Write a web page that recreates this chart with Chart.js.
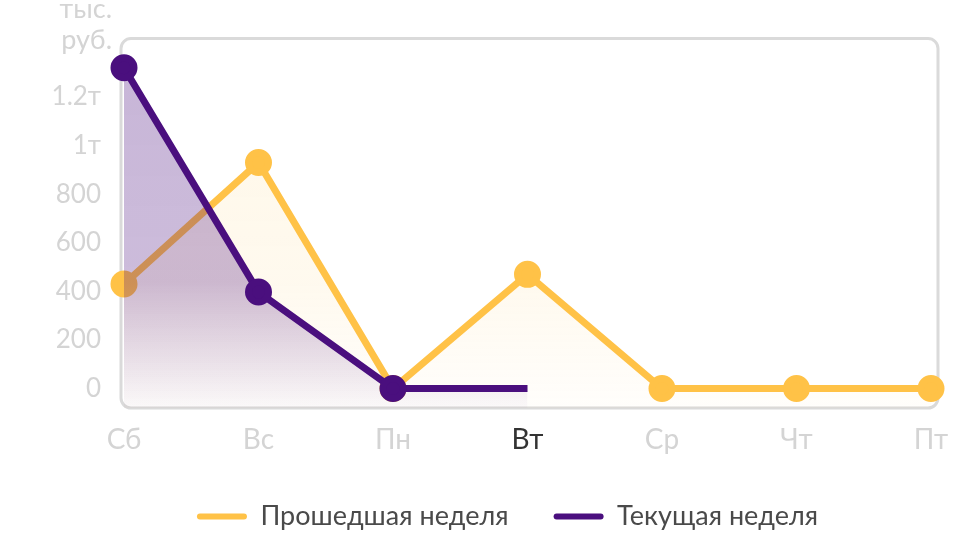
<!DOCTYPE html>
<html>
<head>
<meta charset="utf-8">
<script src="https://cdn.jsdelivr.net/npm/chart.js@4"></script>
<style>
  html, body { margin: 0; padding: 0; background: #fff; }
  #wrap { width: 971px; height: 546px; }
</style>
</head>
<body>
<div id="wrap"><canvas id="weekChart"></canvas></div>
<script>
// дни недели и выручка (тыс. руб.)
var days = ["Сб", "Вс", "Пн", "Вт", "Ср", "Чт", "Пт"];
var lastWeek = [430, 930, 0, 470, 0, 0, 0];
var thisWeek = [1320, 397, 0, 0, null, null, null];
var yTicks = [0, 200, 400, 600, 800, 1000, 1200];
var today = 3;

var yellow = "#ffc247";
var purple = "#4a0f7e";
var grey = "#d4d4d4";

// рамка вокруг области графика, подпись оси, сдвиг легенды
var framePlugin = {
  id: "frame",
  afterLayout: function (chart) {
    chart.legend.left += 42;
    chart.legend.right += 42;
  },
  beforeDatasetsDraw: function (chart) {
    var a = chart.chartArea, ctx = chart.ctx;
    ctx.save();
    ctx.strokeStyle = "#dadada";
    ctx.lineWidth = 3;
    ctx.beginPath();
    ctx.roundRect(a.left - 3, a.top, a.right - a.left + 10, a.bottom - a.top, 10);
    ctx.stroke();
    ctx.restore();
  },
  afterDraw: function (chart) {
    var ctx = chart.ctx;
    ctx.save();
    ctx.fillStyle = grey;
    ctx.font = "27px Lato";
    ctx.textAlign = "right";
    ctx.fillText("тыс.", 112, 9);
    ctx.fillText("руб.", 112, 40);
    ctx.restore();
  }
};

var ctx = document.getElementById("weekChart").getContext("2d");

function gradientFill(rgb, topAlpha, midAlpha, bottomAlpha) {
  return function (context) {
    var a = context.chart.chartArea;
    if (!a) return "rgba(" + rgb + "," + topAlpha + ")";
    var g = context.chart.ctx.createLinearGradient(0, a.top, 0, a.bottom);
    g.addColorStop(0, "rgba(" + rgb + "," + topAlpha + ")");
    g.addColorStop(0.66, "rgba(" + rgb + "," + midAlpha + ")");
    g.addColorStop(1, "rgba(" + rgb + "," + bottomAlpha + ")");
    return g;
  };
}

new Chart(ctx, {
  type: "line",
  data: {
    labels: days,
    datasets: [{
      label: "Прошедшая неделя",
      data: lastWeek,
      borderColor: yellow,
      backgroundColor: gradientFill("255,194,71", 0.13, 0.09, 0.02),
      pointBackgroundColor: yellow,
      pointBorderColor: yellow,
      borderWidth: 7,
      pointRadius: 10,
      fill: "start",
      order: 2,
      clip: false
    }, {
      label: "Текущая неделя",
      data: thisWeek,
      borderColor: purple,
      backgroundColor: gradientFill("74,15,126", 0.31, 0.28, 0.02),
      pointBackgroundColor: purple,
      pointBorderColor: purple,
      borderWidth: 7,
      pointRadius: [10, 10, 10, 0],
      fill: "start",
      order: 1,
      clip: false
    }]
  },
  options: {
    responsive: true,
    maintainAspectRatio: false,
    animation: false,
    layout: { padding: { top: 35, right: 40, left: 0, bottom: 6 } },
    elements: { line: { tension: 0, borderCapStyle: "butt" } },
    plugins: {
      tooltip: { enabled: false },
      legend: {
        position: "bottom",
        labels: {
          color: "#4a4a4a",
          font: { family: "Lato", size: 27 },
          boxWidth: 50,
          boxHeight: 6,
          padding: 45,
          useBorderRadius: true,
          borderRadius: 3,
          sort: function (a, b) { return a.datasetIndex - b.datasetIndex; },
          generateLabels: function (chart) {
            return chart.data.datasets.map(function (ds, i) {
              return {
                text: ds.label,
                fillStyle: ds.borderColor,
                strokeStyle: ds.borderColor,
                lineWidth: 0,
                borderRadius: 3,
                fontColor: "#4a4a4a",
                datasetIndex: i
              };
            });
          }
        }
      }
    },
    scales: {
      x: {
        offset: false,
        grid: { display: false, drawTicks: false },
        border: { display: false },
        ticks: {
          padding: 15,
          font: { family: "Lato", size: 28 },
          color: function (c) { return c.index === today ? "#333333" : grey; }
        },
        afterFit: function (scale) { scale.height = 50; }
      },
      y: {
        min: -80,
        max: 1440,
        grid: { display: false, drawTicks: false },
        border: { display: false },
        afterBuildTicks: function (scale) {
          scale.ticks = yTicks.map(function (v) { return { value: v }; });
        },
        afterFit: function (scale) { scale.width = 124; },
        ticks: {
          padding: 23,
          color: grey,
          font: { family: "Lato", size: 26 },
          callback: function (v) {
            if (v >= 1000) return (v / 1000) + "т";
            return v;
          }
        }
      }
    }
  },
  plugins: [framePlugin]
});
</script>
</body>
</html>
